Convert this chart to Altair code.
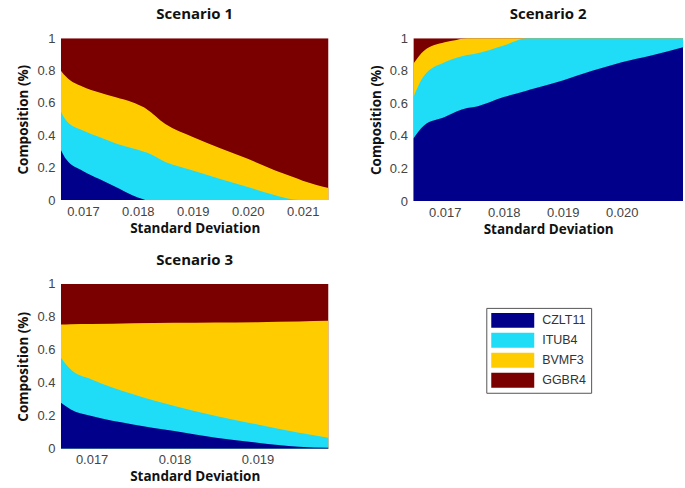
import altair as alt
import pandas as pd

SERIES = ["CZLT11", "ITUB4", "BVMF3", "GGBR4"]
COLORS = ["#00008B", "#1FDDF7", "#FFCC00", "#7A0000"]

# Efficient-frontier composition. For each scenario: standard deviation grid and the
# cumulative upper edge of each band (CZLT11, +ITUB4, +BVMF3); GGBR4 fills up to 1.
s1_sd = [0.01660, 0.01670, 0.01700, 0.01730, 0.01760, 0.01790, 0.01810, 0.01815,
         0.01850, 0.01900, 0.01950, 0.02000, 0.02050, 0.02080, 0.02100, 0.02147]
s1_czlt11 = [0.31, 0.25, 0.18, 0.13, 0.08, 0.03, 0.005, 0.0,
             0.0, 0.0, 0.0, 0.0, 0.0, 0.0, 0.0, 0.0]
s1_itub4 = [0.547, 0.49, 0.43, 0.39, 0.35, 0.32, 0.30, 0.295,
            0.235, 0.183, 0.13, 0.08, 0.03, 0.005, 0.0, 0.0]
s1_bvmf3 = [0.80, 0.76, 0.70, 0.665, 0.635, 0.605, 0.575, 0.565,
            0.47, 0.39, 0.32, 0.255, 0.183, 0.145, 0.12, 0.074]

s2_sd = [0.01647, 0.01665, 0.01700, 0.01720, 0.01738, 0.01750, 0.01800, 0.01840,
         0.01850, 0.01900, 0.01950, 0.02000, 0.02050, 0.02104]
s2_czlt11 = [0.384, 0.465, 0.516, 0.55, 0.572, 0.578, 0.639, 0.68,
             0.69, 0.741, 0.80, 0.853, 0.894, 0.945]
s2_itub4 = [0.639, 0.77, 0.853, 0.88, 0.898, 0.904, 0.955, 1.0,
            1.0, 1.0, 1.0, 1.0, 1.0, 1.0]
s2_bvmf3 = [0.843, 0.924, 0.975, 0.99, 1.0, 1.0, 1.0, 1.0,
            1.0, 1.0, 1.0, 1.0, 1.0, 1.0]

s3_sd = [0.01663, 0.01675, 0.01700, 0.01750, 0.01800, 0.01850, 0.01900, 0.01950, 0.019855]
s3_czlt11 = [0.279, 0.238, 0.198, 0.147, 0.107, 0.067, 0.036, 0.012, 0.005]
s3_itub4 = [0.552, 0.48, 0.42, 0.33, 0.259, 0.198, 0.147, 0.097, 0.067]
s3_bvmf3 = [0.754, 0.756, 0.757, 0.762, 0.764, 0.766, 0.768, 0.772, 0.776]

color_scale = alt.Scale(domain=SERIES, range=COLORS)
# wide swatches: a 43x15 rectangle drawn from a path on a 15px symbol
legend = alt.Legend(
    title=None, orient="none", legendX=426, legendY=270,
    strokeColor="#555", fillColor="white", padding=5, cornerRadius=0,
    symbolType="M-2.87,-1H2.87V1H-2.87Z", symbolSize=225, symbolStrokeWidth=0,
    symbolOpacity=1, symbolOffset=14, labelOffset=22,
    labelFont="Liberation Sans", labelFontSize=12.5,
    labelColor="#333", rowPadding=5,
)


def panel(title, sd, b1, b2, b3, domain, ticks, w, h):
    df = pd.DataFrame({"sd": sd, "b1": b1, "b2": b2, "b3": b3, "top": [1.0] * len(sd)})
    base = alt.Chart(df)
    x = alt.X("sd:Q", scale=alt.Scale(domain=domain, nice=False, zero=False),
              axis=alt.Axis(values=ticks, format=".3f", title="Standard Deviation",
                            labelPadding=5, titlePadding=3))
    layers = []
    # draw from the top band down so each band covers the previous one
    for field, name in [("top", "GGBR4"), ("b3", "BVMF3"), ("b2", "ITUB4"), ("b1", "CZLT11")]:
        layers.append(
            base.transform_calculate(series=f"'{name}'").mark_area(
                interpolate="monotone", clip=True
            ).encode(
                x=x,
                y=alt.Y(f"{field}:Q", scale=alt.Scale(domain=[0, 1], nice=False),
                        axis=alt.Axis(values=[0, 0.2, 0.4, 0.6, 0.8, 1], format="~g",
                                      title="Composition (%)")),
                y2=alt.datum(0),
                color=alt.Color("series:N", scale=color_scale, legend=legend),
            )
        )
    return alt.layer(*layers, title=title).properties(width=w, height=h)


p1 = panel("Scenario 1", s1_sd, s1_czlt11, s1_itub4, s1_bvmf3,
           [0.0166, 0.02147], [0.017, 0.018, 0.019, 0.020, 0.021], 268, 162)
p2 = panel("Scenario 2", s2_sd, s2_czlt11, s2_itub4, s2_bvmf3,
           [0.01647, 0.02104], [0.017, 0.018, 0.019, 0.020], 270, 163)
p3 = panel("Scenario 3", s3_sd, s3_czlt11, s3_itub4, s3_bvmf3,
           [0.01663, 0.019855], [0.017, 0.018, 0.019], 268, 165)

chart = alt.vconcat(
    alt.hconcat(p1, p2, spacing=40),
    p3,
    spacing=17,
).resolve_scale(color="shared").properties(
    padding={"left": 16, "top": 7, "right": 2, "bottom": 0}
).configure_view(stroke=None).configure_axis(
    labelFont="Liberation Sans", labelFontSize=13, labelColor="#444",
    titleFont="Open Sans", titleFontSize=13.5, titleFontWeight="bold", titleColor="#111",
    ticks=False, domain=False, grid=False, labelPadding=6, titlePadding=6,
).configure_title(
    font="Open Sans", fontSize=15, fontWeight="bold", color="#111", offset=10,
)

chart.save("out.html", embed_options={"renderer": "svg", "actions": False})
